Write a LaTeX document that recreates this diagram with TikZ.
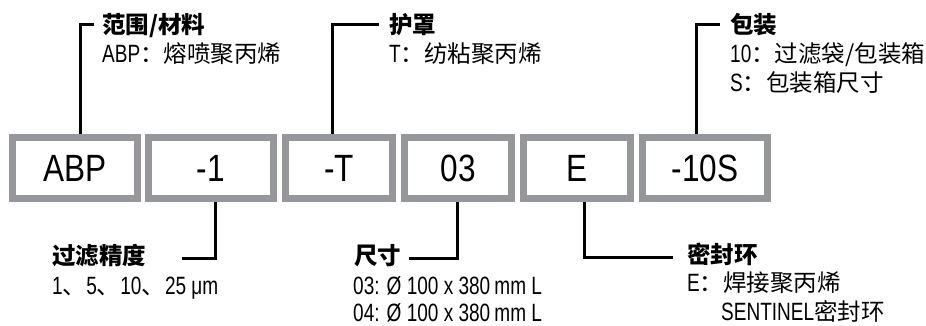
\documentclass[tikz,border=0pt]{standalone}
\usepackage{fontspec}
\setmainfont[FakeStretch=0.76,Scale=1.065]{Liberation Sans}
\newfontfamily\boxfont[FakeStretch=0.83]{Liberation Sans}
\newfontfamily\cjk{Noto Sans CJK SC}
\definecolor{boxgray}{RGB}{150,151,154}
\tikzset{
  codebox/.style={draw=boxgray, line width=7pt, fill=white, minimum height=61pt,
    inner sep=0pt, outer sep=3.5pt, text height=27pt, text depth=0pt,
    font=\boxfont\fontsize{38}{40}\selectfont},
  widebox/.style={codebox, minimum width=125pt},
  narrowbox/.style={codebox, minimum width=107pt},
  lbl/.style={anchor=base west, inner sep=0pt, text height=18.5pt, text depth=1.5pt,
    font=\fontsize{23.5}{26}\selectfont},
  ttl/.style={lbl, font=\fontsize{23.5}{26}\selectfont\bfseries\cjk},
  conn/.style={line width=3pt}
}
\begin{document}
\begin{tikzpicture}[x=1pt,y=-1pt]
\useasboundingbox (0,0) rectangle (926,325);
% boxes
\node[widebox]   (b1) at (75,168)  {ABP};
\node[widebox]   (b2) at (211,168) {-1};
\node[narrowbox] (b3) at (339,168) {-T};
\node[narrowbox] (b4) at (458,168) {03};
\node[narrowbox] (b5) at (577,168) {E};
\node[widebox]   (b6) at (705,168) {-10S};
% top labels
\node[ttl] (t1) at (102,33.5) {范围/材料};
\node[lbl] (t1a) at (102,62) {ABP{\cjk ：熔喷聚丙烯}};
\node[ttl] (t3) at (389,33) {护罩};
\node[lbl] (t3a) at (389,62) {T{\cjk ：纺粘聚丙烯}};
\node[ttl] (t6) at (730,33) {包装};
\node[lbl] (t6a) at (730,62) {10{\cjk ：过滤袋/包装箱}};
\node[lbl] (t6b) at (730,91) {S{\cjk ：包装箱尺寸}};
% bottom labels
\node[ttl] (t2) at (52,264.5) {过滤精度};
\node[lbl] (t2a) at (52,294) {1{\cjk 、}5{\cjk 、}10{\cjk 、}25 μm};
\node[ttl] (t4) at (354,264.5) {尺寸};
\node[lbl] (t4a) at (353,294) {03: Ø 100 x 380\,mm L};
\node[lbl] (t4b) at (353,321.5) {04: Ø 100 x 380\,mm L};
\node[ttl] (t5) at (687,263.5) {密封环};
\node[lbl] (t5a) at (687,291.5) {E{\cjk ：焊接聚丙烯}};
\node[lbl] (t5b) at (721,320) {SENTINEL{\cjk 密封环}};
% connector ends
\coordinate (c1) at (94,24);
\coordinate (c3) at (379,24);
\coordinate (c6) at (720,24);
\coordinate (c2) at (182,258);
\coordinate (c4) at (409,258);
\coordinate (c5) at (673,257);
% connectors
\draw[conn] ([xshift=5pt]b1.north) |- (c1);
\draw[conn] ([xshift=-7pt]b3.north) |- (c3);
\draw[conn] ([xshift=-9pt]b6.north) |- (c6);
\draw[conn] ([xshift=4pt]b2.south) |- (c2);
\draw[conn] ([xshift=-1pt]b4.south) |- (c4);
\draw[conn] ([xshift=7pt]b5.south) |- (c5);
\end{tikzpicture}
\end{document}
